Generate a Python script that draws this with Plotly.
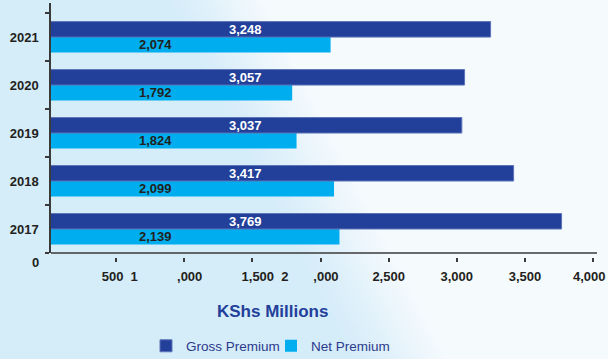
import plotly.graph_objects as go

# ---- data ----
years = ["2017", "2018", "2019", "2020", "2021"]
gross_premium = [3769, 3417, 3037, 3057, 3248]
net_premium = [2139, 2099, 1824, 1792, 2074]
x_tick_vals = [500, 1000, 1500, 2000, 2500, 3000, 3500, 4000]
x_tick_text = ["\u2007500\u00a0\u00a01", "\u2007\u00a0,000", "\u2007\u2007\u2007\u00a01,500\u00a0\u00a02",
               "\u2007\u00a0,000", "2,500", "3,000", "3,500", "4,000"]

# ---- style / geometry constants ----
W, H = 608, 359
ML, MR, MT, MB = 51, 11, 3, 102
PW, PH = W - ML - MR, H - MT - MB
FONT = "Arial, Liberation Sans, sans-serif"
DARK = "#231F20"
AXIS = "#3a3a3a"
GROSS_C = "#22409A"
NET_C = "#00AEEF"
TITLE_C = "#22409A"
LEG_C = "#2B3A8C"
GROSS_LABEL_X = 1446
NET_LABEL_X = 786
TICK_ROW_Y = 276


def xp(px):
    return (px - ML) / PW


def yp(py):
    return (H - MB - py) / PH


fig = go.Figure()
fig.add_bar(y=years, x=net_premium, name="Net Premium", orientation="h",
            marker=dict(color=NET_C, line=dict(width=0)))
fig.add_bar(y=years, x=gross_premium, name="Gross Premium", orientation="h",
            marker=dict(color=GROSS_C, line=dict(color="#5E74B8", width=1)))

tick_font = dict(family=FONT, size=13, color=DARK, weight="bold")
annotations = []
for i, (g, n) in enumerate(zip(gross_premium, net_premium)):
    annotations.append(dict(x=GROSS_LABEL_X, y=i, xref="x", yref="y", text=f"{g:,}",
                            showarrow=False, yshift=7.5,
                            font=dict(family=FONT, size=13, color="white", weight="bold")))
    annotations.append(dict(x=NET_LABEL_X, y=i, xref="x", yref="y", text=f"{n:,}",
                            showarrow=False, yshift=-7,
                            font=dict(family=FONT, size=13, color=DARK, weight="bold")))
# last tick label (drawn as annotation, nudged left so it stays inside the page)
annotations.append(dict(x=x_tick_vals[-1], y=yp(TICK_ROW_Y), xref="x", yref="paper",
                        text=x_tick_text[-1], showarrow=False, xanchor="center", yanchor="middle",
                        xshift=-4, font=tick_font))
annotations.append(dict(x=xp(35.3), y=yp(262.5), xref="paper", yref="paper", text="0",
                        showarrow=False, xanchor="center", yanchor="middle", font=tick_font))
annotations.append(dict(x=xp(272.5), y=yp(311), xref="paper", yref="paper", text="KShs Millions",
                        showarrow=False, xanchor="center", yanchor="middle",
                        font=dict(family=FONT, size=17, color=TITLE_C, weight="bold")))

# background gradient (diagonal, light blue -> white)
shapes = []
blue = (213, 236, 249)
white = (245, 250, 253)
top0, bot0, span = 170, 360, 90
N = 30
shapes.append(dict(type="path", xref="paper", yref="paper", layer="below", line=dict(width=0),
                   fillcolor="rgb(%d,%d,%d)" % blue,
                   path="M %f %f L %f %f L %f %f L %f %f Z" % (
                       xp(-5), yp(-5), xp(top0), yp(-5), xp(bot0), yp(H + 5), xp(-5), yp(H + 5))))
for i in range(N):
    t = (i + 0.5) / N
    c = tuple(int(round(blue[k] + (white[k] - blue[k]) * t)) for k in range(3))
    a = span * i / N
    b = span * (i + 1) / N + 0.8
    shapes.append(dict(type="path", xref="paper", yref="paper", layer="below", line=dict(width=0),
                       fillcolor="rgb(%d,%d,%d)" % c,
                       path="M %f %f L %f %f L %f %f L %f %f Z" % (
                           xp(top0 + a), yp(-5), xp(top0 + b), yp(-5),
                           xp(bot0 + b), yp(H + 5), xp(bot0 + a), yp(H + 5))))
# detached x-axis baseline
shapes.append(dict(type="line", xref="paper", yref="y domain", x0=0, x1=1, y0=0, y1=0,
                   line=dict(color=AXIS, width=1.5)))

fig.update_layout(
    width=W, height=H,
    margin=dict(l=ML, r=MR, t=MT, b=MB, pad=0, autoexpand=False),
    paper_bgcolor="rgb(%d,%d,%d)" % white,
    plot_bgcolor="rgba(0,0,0,0)",
    barmode="group", bargap=0.354, bargroupgap=0,
    xaxis=dict(range=[22, 4029], anchor="free", position=0, showline=False,
               ticks="outside", ticklen=4, tickwidth=1.5, tickcolor=AXIS,
               tickvals=x_tick_vals, ticktext=x_tick_text[:-1] + [""],
               showgrid=False, zeroline=False,
               automargin=False, ticklabelstandoff=3, ticklabeloverflow="allow",
               tickfont=tick_font),
    yaxis=dict(type="category", categoryorder="array", categoryarray=years,
               range=[-0.5, 4.71], domain=[4 / PH, 1], showline=True, linecolor=AXIS, linewidth=1.5,
               ticks="outside", ticklen=4, tickwidth=1.5, tickcolor=AXIS, tickson="boundaries",
               showgrid=False, zeroline=False, automargin=False, ticklabelstandoff=8,
               tickfont=tick_font),
    showlegend=True,
    legend=dict(orientation="h", traceorder="reversed", x=xp(146), xanchor="left",
                y=yp(346), yanchor="middle", bgcolor="rgba(0,0,0,0)",
                entrywidth=80, entrywidthmode="pixels",
                font=dict(family=FONT, size=13.5, color=LEG_C)),
    annotations=annotations,
    shapes=shapes,
)

fig.write_html("out.html")
